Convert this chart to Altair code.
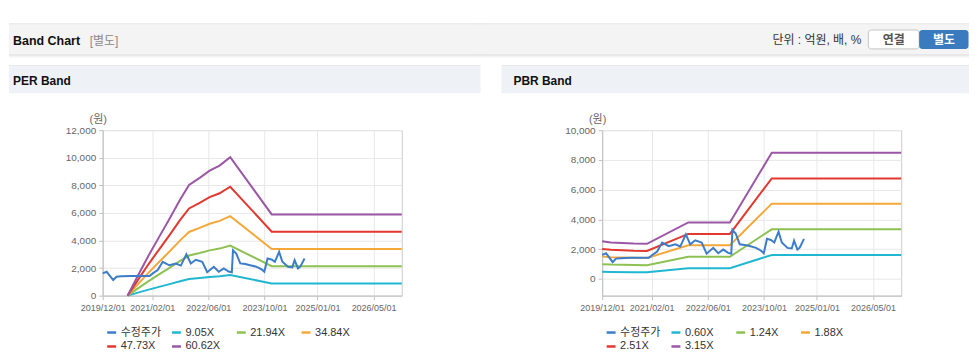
import altair as alt
import pandas as pd

# ---------------- data ----------------
PRICE_NAME = "수정주가"
PRICE_DATES = ["2019-12-01", "2020-01-04", "2020-03-01", "2020-03-30", "2020-05-09", "2020-08-07",
               "2021-01-09", "2021-02-06", "2021-03-21", "2021-05-03", "2021-06-29", "2021-08-25",
               "2021-10-07", "2021-11-24", "2022-01-01", "2022-02-13", "2022-04-10", "2022-05-23",
               "2022-07-19", "2022-08-31", "2022-10-13", "2022-11-25", "2022-12-22", "2023-01-01",
               "2023-01-29", "2023-03-05", "2023-04-17", "2023-05-29", "2023-07-25", "2023-09-06",
               "2023-09-29", "2023-10-27", "2023-11-30", "2023-12-29", "2024-02-04", "2024-03-03",
               "2024-04-21", "2024-05-28", "2024-06-17", "2024-07-16", "2024-08-05", "2024-09-11"]
PRICE_VALUES = [1615, 1730, 1130, 1370, 1400, 1420,
                1420, 1615, 1850, 2450, 2200, 2330,
                2180, 3000, 2330, 2600, 2450, 1700,
                2090, 1730, 1975, 1750, 1700, 3295,
                3055, 2335, 2290, 2210, 2090, 1900,
                1730, 2695, 2620, 2455, 3175, 2455,
                2090, 2050, 2570, 1975, 2100, 2695]

EPS_DATES = ["2020-07-03", "2020-10-01", "2021-01-01", "2021-04-01", "2021-07-01", "2021-10-01",
             "2021-12-17", "2022-03-19", "2022-06-13", "2022-09-07", "2022-12-08", "2023-12-02",
             "2026-12-31"]
EPS_VALUES = [0, 24, 48, 70, 92, 115, 132.5, 140.9, 149.6, 155.5, 165.5, 97.2, 97.2]
PER_MULTIPLES = ["9.05", "21.94", "34.84", "47.73", "60.62"]

BPS_DATES = ["2019-12-01", "2020-02-14", "2020-08-29", "2020-12-23", "2021-12-15", "2022-12-10",
             "2023-12-07", "2026-12-31"]
BPS_VALUES = [803, 780, 755, 750, 1206, 1206, 2692, 2692]
PBR_MULTIPLES = ["0.60", "1.24", "1.88", "2.51", "3.15"]

X_TICKS = [(2019, 12, 1), (2021, 2, 1), (2022, 6, 1), (2023, 10, 1), (2025, 1, 1), (2026, 5, 1)]
X_DOMAIN = [(2019, 12, 1), (2026, 12, 31)]
PER_Y_DOMAIN = [0, 12000]
PER_Y_TICKS = [0, 2000, 4000, 6000, 8000, 10000, 12000]
PBR_Y_DOMAIN = [-1120, 10000]
PBR_Y_TICKS = [0, 2000, 4000, 6000, 8000, 10000]

COLORS = ["#3d7cc9", "#22b7d1", "#8dc153", "#f5a83a", "#e2382f", "#9b56a6"]

FONT = "Liberation Sans, Noto Sans CJK KR"
PY = 129  # page y of plot tops


def dt(t):
    return alt.DateTime(year=t[0], month=t[1], date=t[2])


def band_frame(dates, base, mults):
    rows = []
    for m in mults:
        for d, b in zip(dates, base):
            rows.append({"date": d + "T00:00:00", "value": b * float(m), "series": m + "X"})
    return pd.DataFrame(rows)


price_df = pd.DataFrame({"date": [d + "T00:00:00" for d in PRICE_DATES],
                         "value": PRICE_VALUES, "series": PRICE_NAME})


def rect(ox, x1, y1, x2, y2, fill, stroke=None, radius=0):
    kw = {}
    if stroke:
        kw["stroke"] = stroke
        kw["strokeWidth"] = 1
    if radius:
        kw["cornerRadius"] = radius
    return alt.Chart(alt.Data(values=[{"k": 0}])).mark_rect(fill=fill, **kw).encode(
        x=alt.value(x1 - ox), x2=alt.value(x2 - ox),
        y=alt.value(y1 - PY), y2=alt.value(y2 - PY))


def text(ox, x, y, s, size=12, color="#222", weight="normal", align="left"):
    return alt.Chart(alt.Data(values=[{"k": 0}])).mark_text(
        align=align, baseline="alphabetic", font=FONT, fontSize=size,
        fontWeight=weight, color=color).encode(
        x=alt.value(x - ox), y=alt.value(y - PY), text=alt.value(s))


def panel(ox, bands, mults, ydomain, yticks, decos):
    domain = [PRICE_NAME] + [m + "X" for m in mults]
    cscale = alt.Scale(domain=domain, range=COLORS)
    legend = alt.Legend(orient="none", legendX=3, legendY=197, direction="horizontal",
                        columns=4, title=None, symbolType="stroke", symbolStrokeWidth=2.5,
                        symbolSize=80, labelFont=FONT, labelFontSize=11, labelColor="#333",
                        columnPadding=5, rowPadding=3, gridAlign="all", labelOffset=3)
    x = alt.X("date:T", title=None,
              scale=alt.Scale(domain=[dt(d) for d in X_DOMAIN]),
              axis=alt.Axis(values=[dt(d) for d in X_TICKS], format="%Y/%m/%d",
                            labelFlush=False, labelOverlap=False, labelPadding=4))
    y = alt.Y("value:Q", title="(원)",
              scale=alt.Scale(domain=ydomain, nice=False, zero=False),
              axis=alt.Axis(values=yticks, format=",d", labelPadding=3,
                            titleAngle=0, titleX=-5, titleY=-11, titleAlign="center",
                            titleBaseline="middle", titleFontWeight="normal",
                            titleFontSize=11, titleColor="#666", titleFont=FONT))
    band_line = alt.Chart(bands).mark_line(strokeWidth=2).encode(
        x=x, y=y, color=alt.Color("series:N", scale=cscale, legend=legend))
    price_line = alt.Chart(price_df).mark_line(strokeWidth=2).encode(
        x=x, y=y, color=alt.Color("series:N", scale=cscale, legend=legend))
    return alt.layer(*decos, band_line, price_line).properties(width=300, height=166)


LX = 102
RX = 601
SEAM = 478  # right panel's header starts under the left one's end (481)

left_decos = [
    rect(LX, 8, 8, 481, 22, "#ffffff"),
    rect(LX, 8, 22, 481, 23, "#dadada"),
    rect(LX, 8, 23, 481, 53, "#f4f4f4"),
    rect(LX, 8, 53, 481, 54, "#d8d8d8"),
    rect(LX, 8, 54, 481, 55, "#e8e8e8"),
    rect(LX, 8, 55, 481, 56, "#f4f4f4"),
    rect(LX, 8, 64, 481, 65, "#e0e0e0"),
    rect(LX, 8, 65, 481, 92, "#eef2f7"),
    text(LX, 12, 44, "Band Chart", size=12.5, color="#111", weight="bold"),
    text(LX, 89, 44, "[별도]", size=12, color="#8a8a8a"),
    text(LX, 12, 84, "PER Band", size=12, color="#111", weight="bold"),
]

right_decos = [
    rect(RX, SEAM, 8, 969, 22, "#ffffff"),
    rect(RX, SEAM, 22, 969, 23, "#dadada"),
    rect(RX, SEAM, 23, 969, 53, "#f4f4f4"),
    rect(RX, SEAM, 53, 969, 54, "#d8d8d8"),
    rect(RX, SEAM, 54, 969, 55, "#e8e8e8"),
    rect(RX, SEAM, 55, 969, 56, "#f4f4f4"),
    rect(RX, 500, 64, 969, 65, "#e0e0e0"),
    rect(RX, 500, 65, 969, 92, "#eef2f7"),
    text(RX, 512, 84, "PBR Band", size=12, color="#111", weight="bold"),
    text(RX, 861, 42.5, "단위 : 억원, 배, %", size=12, color="#333", align="right"),
    rect(RX, 868, 28.5, 919, 47.5, "#ffffff", stroke="#c4c4c4", radius=3),
    rect(RX, 919, 28.5, 968.5, 47.5, "#3a7bbf", radius=3),
    text(RX, 893.5, 42.5, "연결", size=12, color="#555", weight="bold", align="center"),
    text(RX, 944, 42.5, "별도", size=12, color="#ffffff", weight="bold", align="center"),
]

per = panel(LX, band_frame(EPS_DATES, EPS_VALUES, PER_MULTIPLES), PER_MULTIPLES,
            PER_Y_DOMAIN, PER_Y_TICKS, left_decos)
pbr = panel(RX, band_frame(BPS_DATES, BPS_VALUES, PBR_MULTIPLES), PBR_MULTIPLES,
            PBR_Y_DOMAIN, PBR_Y_TICKS, right_decos)

chart = alt.hconcat(per, pbr, spacing=SEAM - 481).resolve_scale(
    color="independent", x="independent", y="independent").resolve_legend(
    color="independent").properties(padding=0, background="white").configure_view(
    stroke="#cccccc", strokeWidth=1).configure_axis(
    labelFont=FONT, labelColor="#666", tickColor="#c0c0c0",
    domainColor="#c0c0c0", gridColor="#e8e8e8", tickSize=4).configure_axisX(
    labelFontSize=9).configure_axisY(labelFontSize=10)

chart.save("out.html", embed_options={"renderer": "svg", "actions": False})
